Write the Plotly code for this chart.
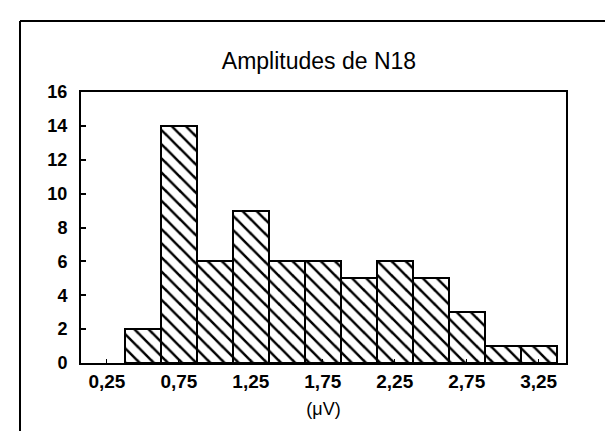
import plotly.graph_objects as go

# Data
bin_centers = [0.5, 0.75, 1.0, 1.25, 1.5, 1.75, 2.0, 2.25, 2.5, 2.75, 3.0, 3.25]
counts = [2, 14, 6, 9, 6, 6, 5, 6, 5, 3, 1, 1]
bin_width = 0.25
x_tick_vals = [0.25, 0.75, 1.25, 1.75, 2.25, 2.75, 3.25]
x_tick_text = ["0,25", "0,75", "1,25", "1,75", "2,25", "2,75", "3,25"]
y_tick_vals = [0, 2, 4, 6, 8, 10, 12, 14, 16]
title_text = "Amplitudes de N18"
x_title = "(μV)"

W, H = 613, 431
L, R, T, B = 73, 55, 84, 76
pw, ph = W - L - R, H - T - B

def px(x):
    return (x - L) / pw

def py(y):
    return (H - B - y) / ph

fig = go.Figure(go.Bar(
    x=bin_centers, y=counts, width=[bin_width] * len(counts),
    marker=dict(color="white",
                line=dict(color="black", width=2),
                pattern=dict(shape="\\", fgcolor="black", bgcolor="white",
                             fgopacity=1, size=10, solidity=0.25)),
    showlegend=False,
))

font = "Liberation Sans, Arial, sans-serif"
fig.update_layout(
    width=W, height=H,
    margin=dict(l=L, r=R, t=T, b=B),
    paper_bgcolor="white", plot_bgcolor="white",
    bargap=0,
    font=dict(family=font, color="black"),
    title=dict(text=title_text, x=311 / W, xanchor="center",
               y=1 - 53 / H, yanchor="middle",
               font=dict(family=font, size=23, color="black")),
    xaxis=dict(range=[0.07, 3.44], tickvals=x_tick_vals, ticktext=x_tick_text,
               showgrid=False, zeroline=False, showline=True, linecolor="black",
               linewidth=2, mirror=True, ticks="inside", ticklen=4,
               tickcolor="black", tickwidth=1,
               tickfont=dict(family=font, size=19, weight="bold"),
               title=dict(text=x_title, font=dict(family=font, size=18), standoff=12)),
    yaxis=dict(range=[0, 16], tickvals=y_tick_vals, showgrid=False, zeroline=False,
               showline=True, linecolor="black", linewidth=2, mirror=True,
               ticks="inside", ticklen=5, tickcolor="black", tickwidth=1.5,
               ticklabelstandoff=8,
               tickfont=dict(family=font, size=18, weight="bold")),
    shapes=[
        dict(type="line", xref="paper", yref="paper", x0=px(12), x1=px(613),
             y0=py(13), y1=py(13), line=dict(color="black", width=2)),
        dict(type="line", xref="paper", yref="paper", x0=px(12), x1=px(12),
             y0=py(13), y1=py(431), line=dict(color="black", width=2)),
    ],
)

fig.write_html("out.html")
